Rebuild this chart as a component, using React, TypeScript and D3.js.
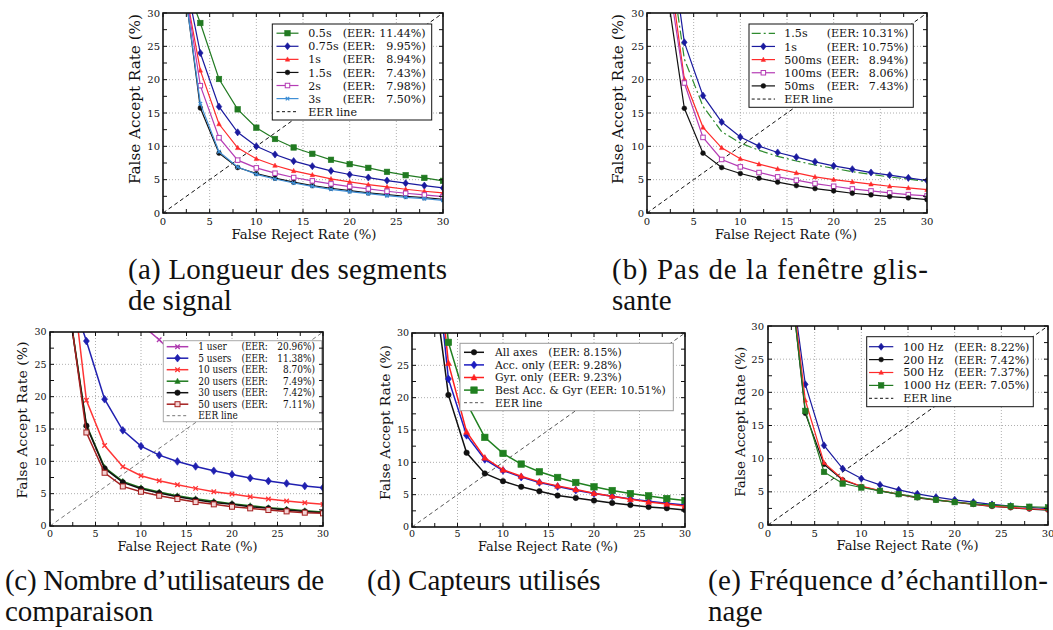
import React from "react";
import * as d3 from "d3";

// ---------- DATA ----------
const FRR = [2, 4, 6, 8, 10, 12, 14, 16, 18, 20, 22, 24, 26, 28, 30];
const MAJOR_TICKS = [0, 5, 10, 15, 20, 25, 30];

// (a) Longueur des segments de signal
const A_NAMES = ["0.5s", "0.75s", "1s", "1.5s", "2s", "3s"];
const A_EER = ["11.44%", "9.95%", "8.94%", "7.43%", "7.98%", "7.50%"];
const A_05S = [36, 28.5, 20.1, 15.55, 12.8, 11.1, 9.83, 8.88, 7.98, 7.33, 6.77, 6.17, 5.67, 5.27, 4.82];
const A_075S = [38, 24.0, 15.95, 12.1, 10.0, 8.78, 7.78, 7.02, 6.32, 5.77, 5.32, 4.87, 4.47, 4.11, 3.76];
const A_1S = [36.5, 21.4, 13.35, 9.78, 8.13, 7.12, 6.32, 5.72, 5.12, 4.67, 4.26, 3.91, 3.56, 3.26, 3.01];
const A_15S = [37.3, 15.75, 8.98, 6.82, 5.92, 5.22, 4.62, 4.11, 3.71, 3.36, 3.01, 2.76, 2.51, 2.31, 2.06];
const A_2S = [37.3, 19.1, 11.3, 7.93, 6.77, 5.97, 5.32, 4.82, 4.37, 3.96, 3.61, 3.26, 2.96, 2.71, 2.46];
const A_3S = [37, 16.4, 9.2, 6.9, 5.8, 5.1, 4.5, 4.0, 3.55, 3.2, 2.9, 2.6, 2.35, 2.15, 1.9];

// (b) Pas de la fenêtre glissante
const B_NAMES = ["1.5s", "1s", "500ms", "100ms", "50ms"];
const B_EER = ["10.31%", "10.75%", "8.94%", "8.06%", "7.43%"];
const B_15S = [42.5, 23.1, 16.0, 12.2, 10.5, 9.4, 8.5, 7.8, 7.2, 6.7, 6.2, 5.8, 5.4, 5.1, 4.7];
const B_1S = [46, 25.6, 17.6, 13.65, 11.39, 10.03, 9.08, 8.38, 7.68, 7.07, 6.57, 6.07, 5.67, 5.27, 4.87];
const B_500MS = [40.7, 20.1, 12.85, 9.78, 8.13, 7.33, 6.62, 6.02, 5.42, 5.02, 4.67, 4.32, 4.01, 3.76, 3.51];
const B_100MS = [37.9, 19.5, 11.34, 8.03, 6.92, 6.07, 5.42, 4.92, 4.42, 4.01, 3.61, 3.31, 3.01, 2.76, 2.56];
const B_50MS = [34.8, 15.7, 8.98, 6.82, 5.92, 5.22, 4.62, 4.11, 3.66, 3.31, 2.96, 2.71, 2.46, 2.26, 2.0];

// (c) Nombre d'utilisateurs de comparaison
const C_NAMES = ["1 user", "5 users", "10 users", "20 users", "30 users", "50 users"];
const C_EER = ["20.96%", "11.38%", "8.70%", "7.49%", "7.42%", "7.11%"];
const C_1 = [60, 45, 38, 34, 31.2, 28.8, 26, 24, 22.7, 21.6, 20.6, 19.8, 19, 18.3, 17.6];
const C_5 = [37, 28.6, 19.6, 14.8, 12.35, 10.96, 9.98, 9.21, 8.54, 7.98, 7.41, 6.95, 6.59, 6.18, 5.92];
const C_10 = [43.4, 19.45, 12.45, 9.16, 7.77, 7.0, 6.38, 5.82, 5.3, 4.94, 4.53, 4.17, 3.86, 3.6, 3.35];
const C_20 = [34.7, 15.65, 9.06, 6.9, 5.92, 5.25, 4.68, 4.22, 3.81, 3.45, 3.14, 2.83, 2.62, 2.37, 2.16];
const C_30 = [34.5, 15.5, 8.9, 6.75, 5.76, 5.1, 4.53, 4.07, 3.65, 3.35, 2.98, 2.73, 2.47, 2.26, 2.06];
const C_50 = [35, 14.46, 8.23, 6.12, 5.3, 4.68, 4.17, 3.7, 3.35, 2.98, 2.73, 2.47, 2.26, 2.06, 1.96];

// (d) Capteurs utilisés
const D_NAMES = ["All axes", "Acc. only", "Gyr. only", "Best Acc. & Gyr (EER: 10.51%)"];
const D_EER = ["8.15%", "9.28%", "9.23%", ""];
const D_ALL = [41.9, 20.43, 11.48, 8.28, 7.09, 6.21, 5.54, 4.86, 4.5, 4.09, 3.72, 3.41, 3.1, 2.9, 2.64];
const D_ACC = [50, 22.9, 14.17, 10.45, 8.74, 7.71, 6.88, 6.26, 5.69, 5.17, 4.76, 4.35, 3.98, 3.67, 3.41];
const D_GYR = [52.7, 25.35, 14.7, 10.7, 8.85, 7.86, 6.98, 6.36, 5.79, 5.22, 4.76, 4.29, 3.88, 3.57, 3.26];
const D_BEST = [57.5, 28.55, 19.2, 13.86, 11.38, 9.73, 8.54, 7.66, 6.88, 6.21, 5.64, 5.17, 4.81, 4.4, 4.09];

// (e) Fréquence d'échantillonnage
const E_NAMES = ["100 Hz", "200 Hz", "500 Hz", "1000 Hz"];
const E_EER = ["8.22%", "7.42%", "7.37%", "7.05%"];
const E_100 = [41.9, 21.2, 12.0, 8.5, 7.0, 6.05, 5.3, 4.7, 4.2, 3.8, 3.45, 3.1, 2.85, 2.65, 2.45];
const E_200 = [42.4, 16.83, 9.15, 6.8, 5.8, 5.15, 4.6, 4.1, 3.75, 3.45, 3.1, 2.8, 2.6, 2.4, 2.25];
const E_500 = [42.4, 18.8, 9.4, 6.9, 5.85, 5.2, 4.65, 4.15, 3.8, 3.5, 3.15, 2.85, 2.65, 2.45, 2.3];
const E_1000 = [42, 17.2, 8.0, 6.25, 5.65, 5.15, 4.65, 4.2, 3.8, 3.45, 3.2, 3.0, 2.85, 2.75, 2.65];

const EER_LABEL = "EER line";
const X_LABEL = "False Reject Rate (%)";
const Y_LABEL = "False Accept Rate (%)";

const CAPTION_A = ["(a) Longueur des segments", "de signal"];
const CAPTION_B = ["(b) Pas de la fenêtre glis-", "sante"];
const CAPTION_C = ["(c) Nombre d\u2019utilisateurs de", "comparaison"];
const CAPTION_D = ["(d) Capteurs utilisés"];
const CAPTION_E = ["(e) Fréquence d\u2019échantillon-", "nage"];

// ---------- STYLE / LAYOUT ----------
type MarkerType = "square" | "osquare" | "diamond" | "triangle" | "circle" | "x";
interface Series {
  name: string;
  eer: string;
  values: number[];
  color: string;
  marker: MarkerType;
  ms: number;
  fill?: string;
  dash?: string;
  lw?: number;
  noMarker?: boolean;
}

const FONT = "'DejaVu Serif', serif";
const CAP_FONT = "'Liberation Serif', 'Times New Roman', serif";

const GREEN = "#217a21";
const BLUE = "#1a1a9e";
const RED = "#ff2b2b";
const BLACK = "#111111";
const PURPLE = "#b53cb5";
const LBLUE = "#3f8fd6";

function mk(names: string[], eers: string[], vals: number[][], styles: Partial<Series>[]): Series[] {
  return names.map((n, i) => ({
    name: n,
    eer: eers[i],
    values: vals[i],
    color: "#000",
    marker: "circle",
    ms: 5,
    ...styles[i],
  })) as Series[];
}

const PANELS = [
  {
    key: "a",
    left: 163, top: 13, width: 280, height: 200,
    eerColor: "#111", legendBorder: "#111",
    legend: { x0: 272.3, y0: 24, x1: 431.7, y1: 120, row0: 33.2, step: 13.08, lx0: 276.5, lx1: 298.5, tx: 308.3, ex: 342.7, rx: 425.7, mode: "right", fs: 11.3, sx: 0.98 },
    tickFs: 10, yTickX: 160, xTickY: 225,
    xLabel: { x: 304, y: 239, fs: 13, len: 145 }, yLabel: { x: 140, y: 99, fs: 14, len: 170 },
    series: mk(A_NAMES, A_EER, [A_05S, A_075S, A_1S, A_15S, A_2S, A_3S], [
      { color: GREEN, marker: "square", ms: 5.5 },
      { color: BLUE, marker: "diamond", ms: 6.5 },
      { color: RED, marker: "triangle", ms: 4.5 },
      { color: BLACK, marker: "circle", ms: 4.8 },
      { color: PURPLE, marker: "osquare", ms: 5.5 },
      { color: LBLUE, marker: "x", ms: 3.5 },
    ]),
  },
  {
    key: "b",
    left: 647, top: 13, width: 280, height: 200,
    eerColor: "#111", legendBorder: "#111",
    legend: { x0: 749, y0: 24, x1: 913.3, y1: 107.3, row0: 33.3, step: 13.15, lx0: 751.7, lx1: 775, tx: 784.3, ex: 826.7, rx: 908.3, mode: "right", fs: 11.3, sx: 0.98 },
    tickFs: 10, yTickX: 644, xTickY: 225,
    xLabel: { x: 786, y: 239, fs: 13, len: 142 }, yLabel: { x: 623, y: 99, fs: 14, len: 170 },
    series: mk(B_NAMES, B_EER, [B_15S, B_1S, B_500MS, B_100MS, B_50MS], [
      { color: "#2e8b2e", marker: "circle", ms: 0, noMarker: true, dash: "9,3,2,3" },
      { color: BLUE, marker: "diamond", ms: 6.5 },
      { color: RED, marker: "triangle", ms: 4.5 },
      { color: PURPLE, marker: "osquare", ms: 5.5 },
      { color: BLACK, marker: "circle", ms: 4.8 },
    ]),
  },
  {
    key: "c",
    left: 50, top: 332, width: 273, height: 194,
    eerColor: "#777", legendBorder: "#aaa",
    legend: { x0: 163.3, y0: 340.7, x1: 321.7, y1: 421.7, row0: 346.7, step: 11.5, lx0: 166.7, lx1: 188.3, tx: 198.3, ex: 241.5, rx: 315, mode: "right", fs: 10.2, sx: 0.88 },
    tickFs: 9.5, yTickX: 46.5, xTickY: 537,
    xLabel: { x: 187.5, y: 551, fs: 12.5, len: 140 }, yLabel: { x: 27, y: 420, fs: 13.5, len: 157 },
    series: mk(C_NAMES, C_EER, [C_1, C_5, C_10, C_20, C_30, C_50], [
      { color: "#b03cb0", marker: "x", ms: 4.5, lw: 1.5 },
      { color: "#2020b0", marker: "diamond", ms: 7, lw: 1.5 },
      { color: "#ff3535", marker: "x", ms: 4.5, lw: 1.5 },
      { color: "#1e7a1e", marker: "triangle", ms: 5.5, lw: 1.5 },
      { color: BLACK, marker: "circle", ms: 5.5, lw: 1.5 },
      { color: "#a52020", marker: "osquare", ms: 6, fill: "#f3d3d3", lw: 1.5 },
    ]),
  },
  {
    key: "d",
    left: 412, top: 333, width: 273, height: 194,
    eerColor: "#555", legendBorder: "#999",
    legend: { x0: 460, y0: 343.3, x1: 673.3, y1: 410.7, row0: 352.3, step: 12.6, lx0: 464, lx1: 484, tx: 495, ex: 548.3, rx: 0, mode: "left", fs: 11, sx: 0.98 },
    tickFs: 9.5, yTickX: 409, xTickY: 537,
    xLabel: { x: 548, y: 551, fs: 12.5, len: 140 }, yLabel: { x: 390, y: 422.5, fs: 13.5, len: 155 },
    series: mk(D_NAMES, D_EER, [D_ALL, D_ACC, D_GYR, D_BEST], [
      { color: BLACK, marker: "circle", ms: 5.5, lw: 1.5 },
      { color: "#1c1cc0", marker: "diamond", ms: 7, lw: 1.5 },
      { color: "#ff2020", marker: "triangle", ms: 6, lw: 1.5 },
      { color: "#208020", marker: "square", ms: 6.5, lw: 1.5 },
    ]),
  },
  {
    key: "e",
    left: 768, top: 326, width: 280, height: 199,
    eerColor: "#111", legendBorder: "#111",
    legend: { x0: 866.7, y0: 336.7, x1: 1033.3, y1: 406.7, row0: 346.7, step: 12.9, lx0: 869, lx1: 893.3, tx: 903.3, ex: 954.3, rx: 0, mode: "left", fs: 11, sx: 1 },
    tickFs: 10, yTickX: 764, xTickY: 537,
    xLabel: { x: 907.5, y: 550, fs: 13, len: 142 }, yLabel: { x: 745, y: 421.7, fs: 13.5, len: 150 },
    series: mk(E_NAMES, E_EER, [E_100, E_200, E_500, E_1000], [
      { color: BLUE, marker: "diamond", ms: 6.5 },
      { color: BLACK, marker: "circle", ms: 4.8 },
      { color: RED, marker: "triangle", ms: 4.5 },
      { color: GREEN, marker: "square", ms: 5.5 },
    ]),
  },
];

const CAPTIONS = [
  { lines: CAPTION_A, x: 128, y: 279, widths: [319, 0] },
  { lines: CAPTION_B, x: 612, y: 279, widths: [316, 0] },
  { lines: CAPTION_C, x: 5, y: 590, widths: [319, 0] },
  { lines: CAPTION_D, x: 367, y: 590, widths: [0] },
  { lines: CAPTION_E, x: 708, y: 590, widths: [340, 0] },
];

// ---------- RENDER ----------
function Marker({ type, cx, cy, s, color, fill }: { type: MarkerType; cx: number; cy: number; s: number; color: string; fill?: string }) {
  const h = s / 2;
  switch (type) {
    case "square":
      return <rect x={cx - h} y={cy - h} width={s} height={s} fill={color} stroke={color} strokeWidth={0.6} />;
    case "osquare":
      return <rect x={cx - h + 0.5} y={cy - h + 0.5} width={s - 1} height={s - 1} fill={fill || "#fff"} stroke={color} strokeWidth={1} />;
    case "diamond":
      return <path d={`M${cx},${cy - h * 1.1}L${cx + h * 0.85},${cy}L${cx},${cy + h * 1.1}L${cx - h * 0.85},${cy}Z`} fill={color} stroke={color} strokeWidth={0.6} />;
    case "triangle":
      return <path d={`M${cx},${cy - h * 1.1}L${cx + h},${cy + h * 0.8}L${cx - h},${cy + h * 0.8}Z`} fill={color} stroke={color} strokeWidth={0.5} />;
    case "circle":
      return <circle cx={cx} cy={cy} r={h} fill={color} stroke={color} strokeWidth={0.5} />;
    case "x":
      return <path d={`M${cx - h},${cy - h}L${cx + h},${cy + h}M${cx - h},${cy + h}L${cx + h},${cy - h}`} stroke={color} strokeWidth={1.3} fill="none" />;
  }
  return null;
}

function tr(x: number, y: number, sx = 1) {
  return `translate(${x},${y}) scale(${sx},1)`;
}

function Panel({ p }: { p: (typeof PANELS)[number] }) {
  const x = d3.scaleLinear().domain([0, 30]).range([p.left, p.left + p.width]);
  const y = d3.scaleLinear().domain([0, 30]).range([p.top + p.height, p.top]);
  const line = d3
    .line<number>()
    .x((_, i) => x(FRR[i]))
    .y((d) => y(d));
  const minor = d3.range(0, 30.001, 2.5);
  const clipId = `clip-${p.key}`;
  const L = p.legend;
  const tl = 4;
  const lt = (px: number, py: number, content: React.ReactNode, anchor: "start" | "end" = "start") => (
    <text transform={tr(px, py, L.sx)} dy="0.36em" fontSize={L.fs} fontFamily={FONT} fill="#111" textAnchor={anchor}>
      {content}
    </text>
  );
  return (
    <g>
      <defs>
        <clipPath id={clipId}>
          <rect x={p.left} y={p.top} width={p.width} height={p.height} />
        </clipPath>
      </defs>
      <rect x={p.left} y={p.top} width={p.width} height={p.height} fill="#fff" />
      {/* grid */}
      {MAJOR_TICKS.slice(1, -1).map((t) => (
        <g key={`g${t}`}>
          <line x1={x(t)} x2={x(t)} y1={p.top} y2={p.top + p.height} stroke="#9a9a9a" strokeWidth={0.8} strokeDasharray="1,2" />
          <line x1={p.left} x2={p.left + p.width} y1={y(t)} y2={y(t)} stroke="#9a9a9a" strokeWidth={0.8} strokeDasharray="1,2" />
        </g>
      ))}
      <g clipPath={`url(#${clipId})`}>
        {/* EER line */}
        <line x1={x(0)} y1={y(0)} x2={x(30)} y2={y(30)} stroke={p.eerColor} strokeWidth={1} strokeDasharray="4,3" />
        {p.series.map((s) => (
          <g key={s.name}>
            <path d={line(s.values) || ""} fill="none" stroke={s.color} strokeWidth={s.lw || 1.2} strokeDasharray={s.dash} />
            {!s.noMarker &&
              s.values.map((v, i) => (
                <Marker key={i} type={s.marker} cx={x(FRR[i])} cy={y(v)} s={s.ms} color={s.color} fill={s.fill} />
              ))}
          </g>
        ))}
      </g>
      {/* legend */}
      <rect x={L.x0} y={L.y0} width={L.x1 - L.x0} height={L.y1 - L.y0} fill="#fff" stroke={p.legendBorder} strokeWidth={1} />
      {p.series.map((s, i) => {
        const ry = L.row0 + i * L.step;
        const mx = (L.lx0 + L.lx1) / 2;
        return (
          <g key={`l${i}`}>
            <line x1={L.lx0} x2={L.lx1} y1={ry} y2={ry} stroke={s.color} strokeWidth={s.lw || 1.2} strokeDasharray={s.dash} />
            {!s.noMarker && <Marker type={s.marker} cx={mx} cy={ry} s={s.ms} color={s.color} fill={s.fill} />}
            {lt(L.tx, ry, s.name)}
            {s.eer && L.mode === "right" && (
              <>
                {lt(L.ex, ry, "(EER:")}
                {lt(L.rx, ry, `${s.eer})`, "end")}
              </>
            )}
            {s.eer && L.mode === "left" && lt(L.ex, ry, `(EER: ${s.eer})`)}
          </g>
        );
      })}
      {(() => {
        const ry = L.row0 + p.series.length * L.step;
        return (
          <g>
            <line x1={L.lx0} x2={L.lx1} y1={ry} y2={ry} stroke={p.eerColor} strokeWidth={1} strokeDasharray="3,2.5" />
            {lt(L.tx, ry, EER_LABEL)}
          </g>
        );
      })()}
      {/* ticks */}
      {minor.map((t) => (
        <g key={`t${t}`} stroke="#111" strokeWidth={1}>
          <line x1={x(t)} x2={x(t)} y1={p.top + p.height} y2={p.top + p.height - tl} />
          <line x1={x(t)} x2={x(t)} y1={p.top} y2={p.top + tl} />
          <line x1={p.left} x2={p.left + tl} y1={y(t)} y2={y(t)} />
          <line x1={p.left + p.width} x2={p.left + p.width - tl} y1={y(t)} y2={y(t)} />
        </g>
      ))}
      {/* spines */}
      <rect x={p.left} y={p.top} width={p.width} height={p.height} fill="none" stroke="#111" strokeWidth={1.6} />
      {/* tick labels */}
      {MAJOR_TICKS.map((t) => (
        <g key={`tl${t}`}>
          <text x={x(t)} y={p.xTickY} fontSize={p.tickFs} fontFamily={FONT} textAnchor="middle" fill="#111">
            {t}
          </text>
          <text x={p.yTickX} y={y(t)} dy="0.36em" fontSize={p.tickFs} fontFamily={FONT} textAnchor="end" fill="#111">
            {t}
          </text>
        </g>
      ))}
      <text
        x={p.xLabel.x - p.xLabel.len / 2}
        y={p.xLabel.y}
        fontSize={p.xLabel.fs}
        fontFamily={FONT}
        fill="#111"
        textLength={p.xLabel.len}
        lengthAdjust="spacingAndGlyphs"
      >
        {X_LABEL}
      </text>
      <text
        transform={`translate(${p.yLabel.x},${p.yLabel.y}) rotate(-90)`}
        x={-p.yLabel.len / 2}
        y={0}
        fontSize={p.yLabel.fs}
        fontFamily={FONT}
        fill="#111"
        textLength={p.yLabel.len}
        lengthAdjust="spacingAndGlyphs"
      >
        {Y_LABEL}
      </text>
    </g>
  );
}

export default function App() {
  return (
    <svg width={1053} height={630} style={{ position: "absolute", left: 0, top: 0, background: "#fff" }}>
      <rect x={0} y={0} width={1053} height={630} fill="#fff" />
      {PANELS.map((p) => (
        <Panel key={p.key} p={p} />
      ))}
      {CAPTIONS.map((c, ci) => (
        <g key={ci}>
          {c.lines.map((ln, li) => (
            <text
              key={li}
              x={c.x}
              y={c.y + li * 31}
              fontSize={29}
              fontFamily={CAP_FONT}
              fill="#111"
              {...(c.widths[li] ? { textLength: c.widths[li], lengthAdjust: "spacing" } : {})}
            >
              {ln}
            </text>
          ))}
        </g>
      ))}
    </svg>
  );
}
